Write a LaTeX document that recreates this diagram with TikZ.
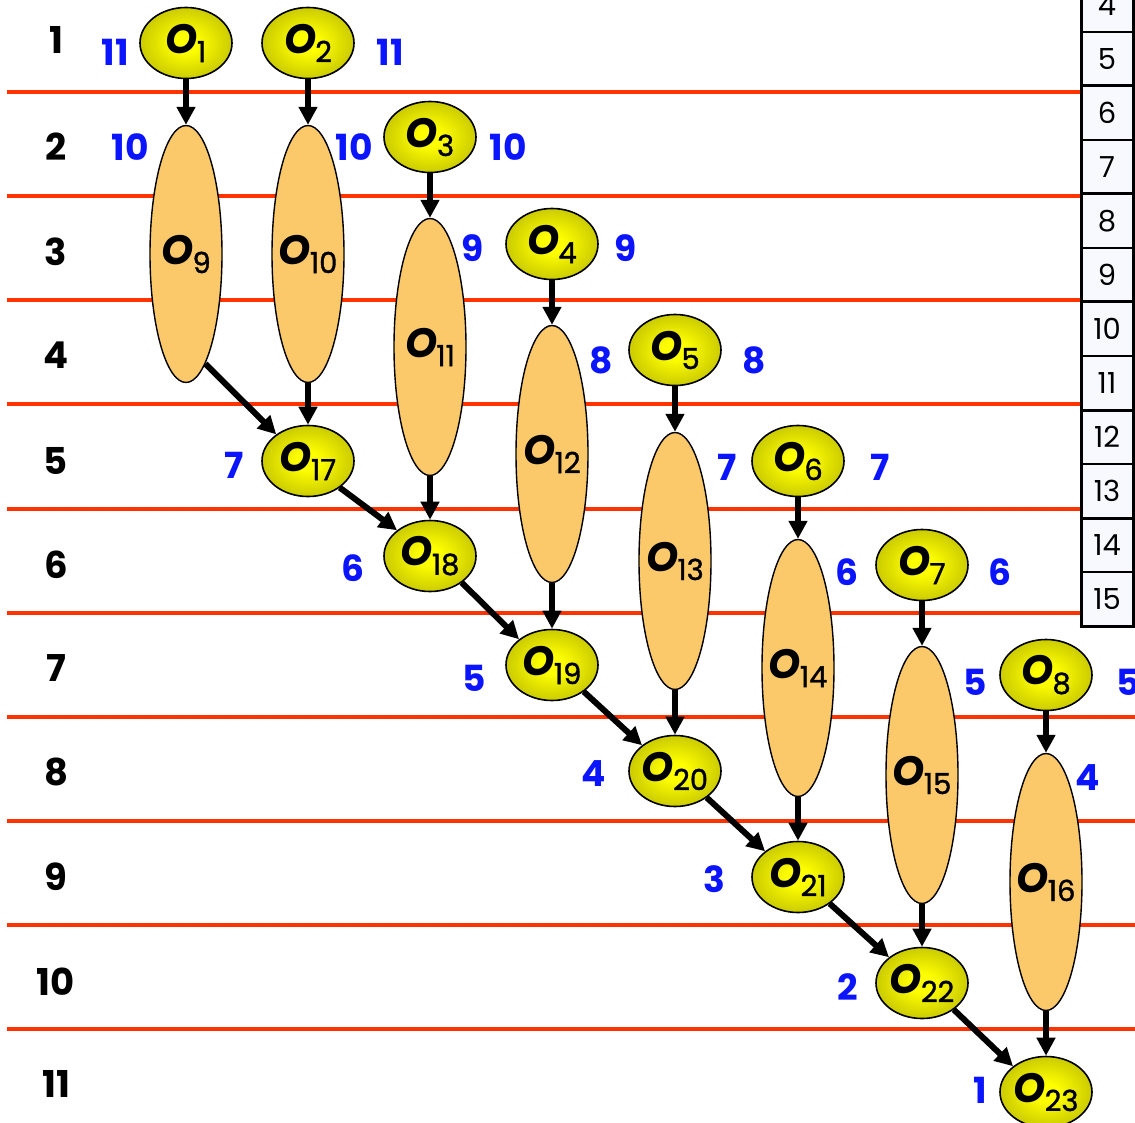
\documentclass[tikz,border=0pt]{standalone}
\usepackage{fontspec}
\setmainfont{Poppins}
\usetikzlibrary{shapes.geometric,arrows.meta}
\definecolor{redline}{RGB}{255,51,0}
\definecolor{bigfill}{RGB}{252,201,106}
\definecolor{numblue}{RGB}{10,20,255}
\definecolor{rim}{RGB}{125,125,0}
\definecolor{midol}{RGB}{195,195,0}
\definecolor{tabfill}{RGB}{248,248,255}
\pgfdeclareradialshading{ballshade}{\pgfpoint{0bp}{0bp}}{color(0bp)=(yellow); color(6bp)=(yellow); color(28bp)=(midol); color(50bp)=(rim)}
\newcommand\Olab[1]{\makebox[0pt][c]{{\fontsize{41}{41}\selectfont\bfseries\itshape O}\kern-1pt\raisebox{-9pt}{\fontsize{29}{29}\selectfont\addfontfeature{FakeBold=1.2}#1}}}
\tikzset{
  small/.style={ellipse, draw=black, line width=1.6pt, shading=ballshade, minimum width=92pt, minimum height=71pt, inner sep=0pt},
  big/.style={ellipse, draw=black, line width=1.4pt, fill=bigfill, minimum width=72pt, minimum height=257pt, inner sep=0pt},
  arr/.style={line width=6pt, -{Triangle[length=18pt,width=18pt]}},
  num/.style={text=numblue, font=\fontsize{36}{36}\selectfont\bfseries, inner sep=0pt},
  rowlab/.style={font=\fontsize{37}{37}\selectfont\bfseries, inner sep=0pt},
  sep/.style={redline, line width=4pt},
  tabnum/.style={font=\fontsize{29}{29}\selectfont, inner sep=0pt},
}
\begin{document}
\begin{tikzpicture}[x=1pt,y=-1pt]
\useasboundingbox (0,0) rectangle (1135,1123);
% separators
\foreach \y in {92,196,300,404,509,613} \draw[sep] (7,\y) -- (1081,\y);
\foreach \y in {717,821,925,1029} \draw[sep] (7,\y) -- (1140,\y);
% table
\fill[tabfill] (1081,-30) rectangle (1133,626);
\foreach \y in {32,140,248,356,464,572} \draw[line width=1.5pt] (1081,\y) -- (1133,\y);
\foreach \y in {86,194,302,410,518,626} \draw[line width=3pt] (1079.5,\y) -- (1134.5,\y);
\draw[line width=3pt] (1081,-30) -- (1081,627.5);
\draw[line width=3pt] (1133,-30) -- (1133,627.5);
\draw[yellow, line width=1pt] (1135,-30) -- (1135,626);
\foreach \k in {4,...,15} \node[tabnum] (t\k) at (1107,{59+(\k-5)*54}) {\k};
% row labels
\foreach \i/\y in {1/40,2/147,3/252,4/355,5/461,6/565,7/668,8/772,9/877,10/982,11/1084}
  \node[rowlab] (r\i) at (56,\y) {\i};
% big ellipses
\node[big] (O9)  at (186,254) {\Olab{9}};
\node[big] (O10) at (308,254) {\Olab{10}};
\node[big] (O11) at (430,347) {\Olab{11}};
\node[big] (O12) at (552,454) {\Olab{12}};
\node[big] (O13) at (675,561) {\Olab{13}};
\node[big] (O14) at (798,668) {\Olab{14}};
\node[big] (O15) at (922,775) {\Olab{15}};
\node[big] (O16) at (1046,882) {\Olab{16}};
% small ellipses
\node[small] (O1) at (186,43) {\Olab{1}};
\node[small] (O2) at (308,43) {\Olab{2}};
\node[small] (O3) at (430,137) {\Olab{3}};
\node[small] (O4) at (552,244) {\Olab{4}};
\node[small] (O5) at (675,350) {\Olab{5}};
\node[small] (O6) at (798,461) {\Olab{6}};
\node[small] (O7) at (922,565) {\Olab{7}};
\node[small] (O8) at (1046,675) {\Olab{8}};
\node[small] (O17) at (308,461) {\Olab{17}};
\node[small] (O18) at (430,556) {\Olab{18}};
\node[small] (O19) at (552,665) {\Olab{19}};
\node[small] (O20) at (675,771) {\Olab{20}};
\node[small] (O21) at (798,877) {\Olab{21}};
\node[small] (O22) at (922,983) {\Olab{22}};
\node[small] (O23) at (1046,1092) {\Olab{23}};
% blue numbers
\node[num] (n1) at (115,52) {11};
\node[num] (n2) at (390,52) {11};
\node[num] (n3) at (130,147) {10};
\node[num] (n4) at (354,147) {10};
\node[num] (n5) at (508,147) {10};
\node[num] (n6) at (473,248) {9};
\node[num] (n7) at (626,248) {9};
\node[num] (n8) at (601,360) {8};
\node[num] (n9) at (754,360) {8};
\node[num] (n10) at (234,465) {7};
\node[num] (n11) at (727,467) {7};
\node[num] (n12) at (880,467) {7};
\node[num] (n13) at (353,568) {6};
\node[num] (n14) at (847,572) {6};
\node[num] (n15) at (1000,572) {6};
\node[num] (n16) at (474,678) {5};
\node[num] (n17) at (975,682) {5};
\node[num] (n18) at (1128,682) {5};
\node[num] (n19) at (594,774) {4};
\node[num] (n20) at (1088,778) {4};
\node[num] (n21) at (714,879) {3};
\node[num] (n22) at (848,987) {2};
\node[num] (n23) at (980,1090) {1};
% arrows
\draw[arr] (O1) -- (O9);
\draw[arr] (O2) -- (O10);
\draw[arr] (O3) -- (O11);
\draw[arr] (O4) -- (O12);
\draw[arr] (O5) -- (O13);
\draw[arr] (O6) -- (O14);
\draw[arr] (O7) -- (O15);
\draw[arr] (O8) -- (O16);
\draw[arr] (O10) -- (O17);
\draw[arr] (O11) -- (O18);
\draw[arr] (O12) -- (O19);
\draw[arr] (O13) -- (O20);
\draw[arr] (O14) -- (O21);
\draw[arr] (O15) -- (O22);
\draw[arr] (O16) -- (O23);
\draw[arr] (O9.-80) -- (O17.140);
\draw[arr] (O17.-40) -- (O18.142);
\draw[arr] (O18.-40) -- (O19.142);
\draw[arr] (O19.-40) -- (O20.142);
\draw[arr] (O20.-40) -- (O21.142);
\draw[arr] (O21.-40) -- (O22.142);
\draw[arr] (O22.-40) -- (O23.142);
\end{tikzpicture}
\end{document}
